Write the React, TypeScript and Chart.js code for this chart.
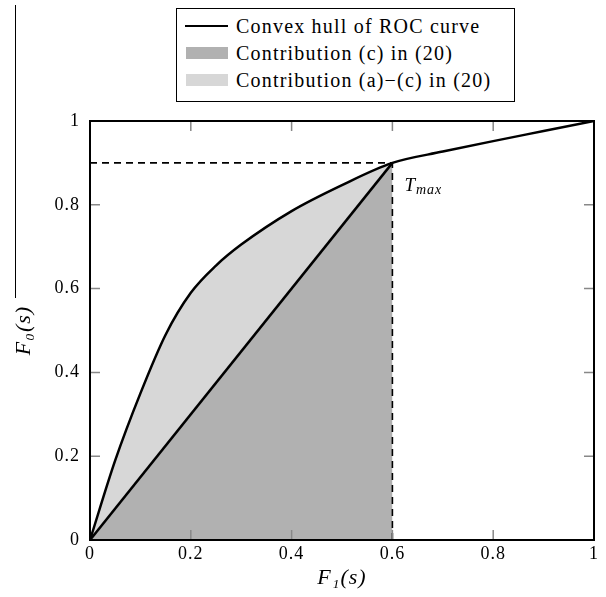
import React, { useEffect, useRef } from 'react';
import { Chart, registerables } from 'chart.js';

Chart.register(...registerables);

// ROC convex hull (F1(s) -> F0(s))
const rocX = [0, 0.05, 0.1, 0.15, 0.2, 0.25, 0.3, 0.4, 0.5, 0.6, 0.7, 0.8, 0.9, 1];
const rocY = [0, 0.19, 0.35, 0.49, 0.59, 0.655, 0.705, 0.785, 0.847, 0.9, 0.927, 0.952, 0.976, 1];

// Threshold point T_max
const tmaxX = 0.6;
const tmaxY = 0.9;

const xTicks = [0, 0.2, 0.4, 0.6, 0.8, 1];
const yTicks = [0, 0.2, 0.4, 0.6, 0.8, 1];
const tickLabel = (v: number) => (v === 0 || v === 1 ? String(v) : v.toFixed(1));

const legendLabels = ['Convex hull of ROC curve', 'Contribution (c) in (20)', 'Contribution (a)\u2212(c) in (20)'];

const FONT = "'Liberation Serif', 'DejaVu Serif', serif";
const DARK = '#b1b1b1';
const LIGHT = '#d7d7d7';

const framePlugin = {
  id: 'frameTicks',
  beforeDraw(chart: any) {
    (chart.ctx as any).letterSpacing = '1px';
  },
  afterDatasetsDraw(chart: any) {
    const { ctx, chartArea: a, scales } = chart;
    const xs = scales.x, ys = scales.y;
    ctx.save();
    // inward tick marks on all four sides
    ctx.strokeStyle = '#888';
    ctx.lineWidth = 1.5;
    const L = 10;
    xTicks.slice(1, -1).forEach((v) => {
      const px = xs.getPixelForValue(v);
      ctx.beginPath();
      ctx.moveTo(px, a.bottom); ctx.lineTo(px, a.bottom - L);
      ctx.moveTo(px, a.top); ctx.lineTo(px, a.top + L);
      ctx.stroke();
    });
    yTicks.slice(1, -1).forEach((v) => {
      const py = ys.getPixelForValue(v);
      ctx.beginPath();
      ctx.moveTo(a.left, py); ctx.lineTo(a.left + L, py);
      ctx.moveTo(a.right, py); ctx.lineTo(a.right - L, py);
      ctx.stroke();
    });
    // frame
    ctx.strokeStyle = '#000';
    ctx.lineWidth = 2;
    ctx.strokeRect(a.left, a.top, a.right - a.left, a.bottom - a.top);
    // T_max label
    const tx = xs.getPixelForValue(tmaxX) + 12;
    const ty = ys.getPixelForValue(tmaxY) + 28;
    ctx.fillStyle = '#000';
    ctx.textBaseline = 'alphabetic';
    ctx.textAlign = 'left';
    ctx.font = `italic 19px ${FONT}`;
    ctx.fillText('T', tx, ty);
    const w = ctx.measureText('T').width;
    ctx.font = `italic 14px ${FONT}`;
    ctx.fillText('max', tx + w, ty + 3);
    ctx.restore();
  },
};

export default function App() {
  const ref = useRef<HTMLCanvasElement>(null);

  useEffect(() => {
    document.body.style.margin = '0';
    const rocPts = rocX.map((x, i) => ({ x, y: rocY[i] }));
    const fillPts = rocPts.filter((p) => p.x <= tmaxX);
    const canvas = ref.current!;
    const chart = new Chart(canvas, {
      type: 'line',
      data: {
        datasets: [
          {
            label: legendLabels[1],
            data: [{ x: 0, y: 0 }, { x: tmaxX, y: tmaxY }],
            borderColor: '#000',
            borderWidth: 2.5,
            backgroundColor: DARK,
            fill: 'origin',
            pointRadius: 0,
          },
          {
            label: legendLabels[2],
            data: fillPts,
            borderWidth: 0,
            borderColor: 'rgba(0,0,0,0)',
            backgroundColor: LIGHT,
            fill: 'origin',
            pointRadius: 0,
            cubicInterpolationMode: 'monotone',
          },
          {
            label: legendLabels[0],
            data: rocPts,
            borderColor: '#000',
            borderWidth: 2.5,
            fill: false,
            pointRadius: 0,
            cubicInterpolationMode: 'monotone',
          },
          {
            label: 'h',
            data: [{ x: 0, y: tmaxY }, { x: tmaxX, y: tmaxY }],
            borderColor: '#000',
            borderWidth: 1.6,
            borderDash: [7, 5],
            fill: false,
            pointRadius: 0,
          },
          {
            label: 'v',
            data: [{ x: tmaxX, y: 0 }, { x: tmaxX, y: tmaxY }],
            borderColor: '#000',
            borderWidth: 1.6,
            borderDash: [7, 5],
            fill: false,
            pointRadius: 0,
          },
        ],
      },
      options: {
        animation: false,
        responsive: false,
        layout: { padding: { top: 121, right: 12, left: 0, bottom: 0 } },
        plugins: {
          legend: { display: false },
          tooltip: { enabled: false },
          filler: { drawTime: 'beforeDatasetsDraw' },
        },
        scales: {
          x: {
            type: 'linear',
            min: 0,
            max: 1,
            afterBuildTicks: (s: any) => { s.ticks = xTicks.map((value) => ({ value })); },
            afterFit: (s: any) => { s.height = 57; },
            ticks: { callback: (v: any) => tickLabel(Number(v)), color: '#000', font: { family: FONT, size: 18 }, padding: 3, maxRotation: 0 },
            grid: { display: false, drawTicks: false },
            border: { display: false },
            title: { display: true, text: 'F\u2081(s)', color: '#000', font: { family: FONT, size: 22, style: 'italic' }, padding: { bottom: 6, top: 0 } },
          },
          y: {
            type: 'linear',
            min: 0,
            max: 1,
            afterBuildTicks: (s: any) => { s.ticks = yTicks.map((value) => ({ value })); },
            afterFit: (s: any) => { s.width = 90; },
            ticks: { callback: (v: any) => tickLabel(Number(v)), color: '#000', font: { family: FONT, size: 18 }, padding: 10 },
            grid: { display: false, drawTicks: false },
            border: { display: false },
            title: { display: true, text: 'F\u2080(s)', color: '#000', font: { family: FONT, size: 22, style: 'italic' }, padding: { top: 11, bottom: 0 } },
          },
        },
      },
      plugins: [framePlugin],
    } as any);
    return () => chart.destroy();
  }, []);

  const rowStyle: React.CSSProperties = {
    position: 'absolute', left: 0, height: 24, display: 'flex', alignItems: 'center',
  };
  const textStyle: React.CSSProperties = { position: 'absolute', left: 59, whiteSpace: 'nowrap', letterSpacing: '1.2px' };

  return (
    <div style={{ position: 'relative', width: 606, height: 597, background: '#fff' }}>
      <canvas ref={ref} width={606} height={597} style={{ position: 'absolute', left: 0, top: 0 }} />
      <div style={{ position: 'absolute', left: 15, top: 5, width: 0, height: 293, borderLeft: '1px solid #000' }} />
      <div
        style={{
          position: 'absolute', left: 176, top: 8, width: 337, height: 92,
          border: '1.5px solid #000', background: '#fff', fontFamily: FONT, fontSize: 20, color: '#000',
        }}
      >
        <div style={{ ...rowStyle, top: 5 }}>
          <div style={{ position: 'absolute', left: 8, width: 43, height: 0, borderTop: '2px solid #000' }} />
          <span style={textStyle}>{legendLabels[0]}</span>
        </div>
        <div style={{ ...rowStyle, top: 32 }}>
          <div style={{ position: 'absolute', left: 9, top: 6, width: 42, height: 12, background: DARK }} />
          <span style={textStyle}>{legendLabels[1]}</span>
        </div>
        <div style={{ ...rowStyle, top: 59 }}>
          <div style={{ position: 'absolute', left: 9, top: 6, width: 42, height: 12, background: LIGHT }} />
          <span style={textStyle}>{legendLabels[2]}</span>
        </div>
      </div>
    </div>
  );
}
